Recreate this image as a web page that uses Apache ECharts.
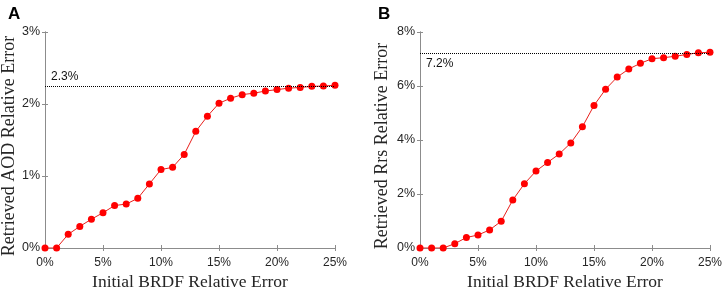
<!DOCTYPE html>
<html>
<head>
<meta charset="utf-8">
<script src="https://cdn.jsdelivr.net/npm/echarts@6/dist/echarts.min.js"></script>
<style>
  html, body { margin: 0; padding: 0; background: #fff; }
  #main { width: 726px; height: 289px; }
</style>
</head>
<body>
<div id="main"></div>
<script>
// initial BRDF relative error (%), shared by both panels
const brdfError = [0, 1, 2, 3, 4, 5, 6, 7, 8, 9, 10, 11, 12, 13, 14, 15, 16, 17, 18, 19, 20, 21, 22, 23, 24, 25];

// panel A: retrieved AOD relative error (%)
const aodError = [0, 0, 0.19, 0.3, 0.4, 0.49, 0.59, 0.61, 0.69, 0.89, 1.09, 1.12, 1.3, 1.62, 1.83, 2.01,
  2.08, 2.13, 2.15, 2.18, 2.2, 2.22, 2.23, 2.245, 2.25, 2.26];
// panel B: retrieved Rrs relative error (%)
const rrsError = [0, 0, 0, 0.16, 0.39, 0.48, 0.67, 0.99, 1.78, 2.38, 2.85, 3.17, 3.48, 3.89, 4.49, 5.28,
  5.88, 6.33, 6.63, 6.84, 7.01, 7.05, 7.1, 7.17, 7.23, 7.25];

const panelLetters = ['A', 'B'];
const yTitles = ['Retrieved AOD Relative Error', 'Retrieved Rrs Relative Error'];
const xTitle = 'Initial BRDF Relative Error';
const yMax = [3, 8];
const yStep = [1, 2];
const refLine = [2.24, 7.2];
const refLabel = ['2.3%', '7.2%'];

const sans = 'Liberation Sans, Arial, sans-serif';
const serif = 'Liberation Serif, Times New Roman, serif';
const axisGray = '#8c8c8c';
const textDark = '#262626';

const grids = [
  { left: 45, top: 32, width: 290, height: 216, outerBoundsMode: 'none', containLabel: false },
  { left: 420, top: 32, width: 290, height: 216, outerBoundsMode: 'none', containLabel: false },
];

function xAxes(i) {
  const base = {
    type: 'value', gridIndex: i, min: 0, max: 25, interval: 5,
    axisLine: { show: true, lineStyle: { color: axisGray, width: 1 } },
    axisTick: { show: true, inside: true, length: 3, lineStyle: { color: axisGray } },
    splitLine: { show: false },
  };
  return [
    Object.assign({}, base, {
      position: 'bottom',
      axisLabel: { formatter: '{value}%', color: textDark, fontFamily: sans, fontSize: 12, margin: 9 },
      name: xTitle, nameLocation: 'middle', nameGap: 25,
      nameTextStyle: { fontFamily: serif, fontSize: 17.5, color: textDark },
    }),
    Object.assign({}, base, { position: 'top', axisLabel: { show: false } }),
  ];
}

function yAxes(i) {
  const base = {
    type: 'value', gridIndex: i, min: 0, max: yMax[i], interval: yStep[i],
    axisLine: { show: true, lineStyle: { color: axisGray, width: 1 } },
    axisTick: { show: true, inside: true, length: 3, lineStyle: { color: axisGray } },
    splitLine: { show: false },
  };
  return [
    Object.assign({}, base, {
      position: 'left',
      axisLabel: { formatter: '{value}%', color: textDark, fontFamily: sans, fontSize: 12.5, margin: 5 },
      name: yTitles[i], nameLocation: 'middle', nameGap: i === 0 ? 26 : 29,
      nameTextStyle: { fontFamily: serif, fontSize: 18, color: textDark, padding: [0, 12, 0, 0] },
    }),
    Object.assign({}, base, { position: 'right', axisLabel: { show: false } }),
  ];
}

function series(i, values) {
  return {
    type: 'line',
    xAxisIndex: i * 2,
    yAxisIndex: i * 2,
    data: brdfError.map((x, k) => [x, values[k]]),
    symbol: 'circle',
    symbolSize: 7,
    itemStyle: { color: '#ff0000' },
    lineStyle: { color: '#e8201c', width: 1 },
    emphasis: { disabled: true },
    markLine: {
      silent: true,
      symbol: ['none', 'none'],
      lineStyle: { type: 'dotted', color: '#000', width: 1 },
      label: {
        show: true,
        formatter: refLabel[i],
        position: i === 0 ? 'insideStartTop' : 'insideStartBottom',
        color: '#111', fontFamily: sans, fontSize: 12, distance: [6, 4],
      },
      data: [{ yAxis: refLine[i] }],
    },
  };
}

const chart = echarts.init(document.getElementById('main'), null, { renderer: 'canvas' });
chart.setOption({
  animation: false,
  backgroundColor: '#fff',
  title: [
    { text: panelLetters[0], left: 3, top: 1, textStyle: { fontFamily: sans, fontWeight: 'bold', fontSize: 17, color: '#000' } },
    { text: panelLetters[1], left: 373, top: 1, textStyle: { fontFamily: sans, fontWeight: 'bold', fontSize: 17, color: '#000' } },
  ],
  grid: grids,
  xAxis: xAxes(0).concat(xAxes(1)),
  yAxis: yAxes(0).concat(yAxes(1)),
  series: [series(0, aodError), series(1, rrsError)],
});
</script>
</body>
</html>
